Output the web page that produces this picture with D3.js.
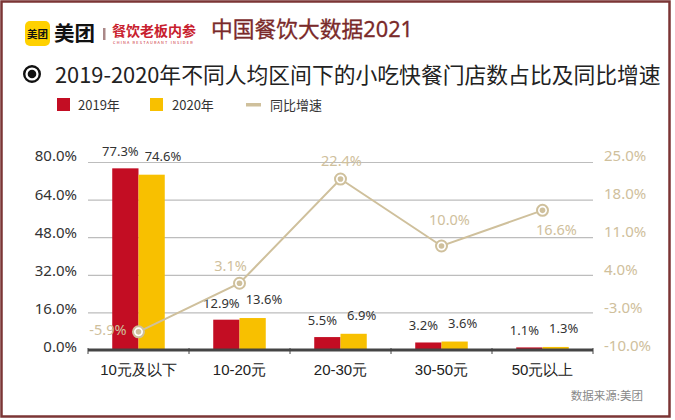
<!DOCTYPE html>
<html><head><meta charset="utf-8">
<script src="https://cdn.jsdelivr.net/npm/d3@7"></script>
<style>
html,body{margin:0;padding:0;background:#fff;}
svg{display:block;font-family:"Noto Sans CJK SC","Noto Sans",sans-serif;}
</style></head>
<body><svg id="c" width="675" height="420"></svg>
<script>
const categories = ["10元及以下","10-20元","20-30元","30-50元","50元以上"];
const values2019 = [77.3, 12.9, 5.5, 3.2, 1.1];
const values2020 = [74.6, 13.6, 6.9, 3.6, 1.3];
const growth = [-5.9, 3.1, 22.4, 10.0, 16.6];
const leftTicks = [0, 16, 32, 48, 64, 80];
const rightTicks = [-10, -3, 4, 11, 18, 25];
const seriesNames = ["2019年","2020年","同比增速"];

const RED = "#C30D23", YEL = "#F8C000", BEIGE = "#CFC09C";
const svg = d3.select("#c");

function fit(sel, w){
  const base = parseFloat(sel.attr("font-size"));
  const m = sel.node().getComputedTextLength();
  if (m > 0) sel.attr("font-size", (base * w / m).toFixed(2));
  return sel;
}

// frame
svg.append("rect").attr("x",1.5).attr("y",1.5).attr("width",668).attr("height",415)
  .attr("fill","#fff").attr("stroke","#7B3535").attr("stroke-width",2.5);

// header logo
svg.append("rect").attr("x",25).attr("y",21).attr("width",25).attr("height",25).attr("rx",5).attr("fill","#FFD100");
svg.append("text").attr("x",37.5).attr("y",37.5).attr("text-anchor","middle").attr("font-size",10.5).attr("font-weight","bold").attr("fill","#111").text("美团");
fit(svg.append("text").attr("x",54).attr("y",41).attr("font-size",20).attr("font-weight","bold").attr("fill","#111").text("美团"),41);
svg.append("rect").attr("x",103).attr("y",28).attr("width",2.5).attr("height",12).attr("fill","#A88");
fit(svg.append("text").attr("x",112).attr("y",35.5).attr("font-size",14).attr("font-weight","bold").attr("fill","#C8202E").text("餐饮老板内参"),84);
fit(svg.append("text").attr("x",113).attr("y",44).attr("font-size",3.6).attr("letter-spacing",1.2).attr("fill","#C8202E").text("CHINA RESTAURANT INSIDER"),83);
fit(svg.append("text").attr("x",211).attr("y",37).attr("font-size",18).attr("font-family","'Noto Sans','Noto Sans CJK SC',sans-serif").attr("fill","#7A2A2A").attr("stroke","#7A2A2A").attr("stroke-width",0.3).text("中国餐饮大数据2021"),202);

// title
svg.append("circle").attr("cx",32).attr("cy",74).attr("r",7.8).attr("fill","none").attr("stroke","#111").attr("stroke-width",2.4);
svg.append("circle").attr("cx",32).attr("cy",74).attr("r",4.3).attr("fill","#111");
fit(svg.append("text").attr("x",55).attr("y",83).attr("font-size",21).attr("fill","#222").text("2019-2020年不同人均区间下的小吃快餐门店数占比及同比增速"),606);

// legend
const lg = svg.append("g");
lg.append("rect").attr("x",57).attr("y",98).attr("width",13).attr("height",13).attr("fill",RED);
lg.append("text").attr("x",78).attr("y",110).attr("font-size",13).attr("fill","#333").text(seriesNames[0]);
lg.append("rect").attr("x",150).attr("y",98).attr("width",13).attr("height",13).attr("fill",YEL);
lg.append("text").attr("x",172).attr("y",110).attr("font-size",13).attr("fill","#333").text(seriesNames[1]);
lg.append("rect").attr("x",246).attr("y",103).attr("width",15).attr("height",3.5).attr("fill",BEIGE);
lg.append("text").attr("x",270).attr("y",110).attr("font-size",13).attr("fill","#333").text(seriesNames[2]);

// scales
const x0 = 88, x1 = 593, yTop = 162, yBot = 350;
const x = d3.scaleBand().domain(categories).range([x0,x1]).paddingInner(0.48).paddingOuter(0.24);
const xb = d3.scaleBand().domain(categories).range([x0,x1]);
const inner = d3.scaleBand().domain(["a","b"]).range([0,x.bandwidth()]);
const yL = d3.scaleLinear().domain([0,80]).range([yBot,yTop]);
const yR = d3.scaleLinear().domain([-10,25]).range([354,165]);
const yLabL = d3.scaleLinear().domain([0,80]).range([347,156]);
const yLabR = d3.scaleLinear().domain([-10,25]).range([346,156]);

// grid
svg.append("g").selectAll("line").data(leftTicks.slice(1)).join("line")
  .attr("x1",x0).attr("x2",x1).attr("y1",d=>yL(d)+0.5).attr("y2",d=>yL(d)+0.5)
  .attr("stroke","#BDBDBD").attr("stroke-width",1.2);

// left axis labels
const la = svg.append("g").attr("transform",`translate(${x0},0)`)
  .call(d3.axisLeft(yLabL).tickValues(leftTicks).tickSize(0).tickPadding(11).tickFormat(d=>d.toFixed(1)+"%"));
la.select(".domain").remove();
la.selectAll("text").attr("font-size",15).attr("fill","#333").attr("font-family","'Noto Sans','Noto Sans CJK SC',sans-serif");

// right axis labels
const ra = svg.append("g").attr("transform",`translate(${x1},0)`)
  .call(d3.axisRight(yLabR).tickValues(rightTicks).tickSize(0).tickPadding(11).tickFormat(d=>d.toFixed(1)+"%"));
ra.select(".domain").remove();
ra.selectAll("text").attr("font-size",15).attr("fill",BEIGE).attr("font-family","'Noto Sans','Noto Sans CJK SC',sans-serif");

// bars
const bars = svg.append("g");
const lblF = "'Noto Sans','Noto Sans CJK SC',sans-serif";
categories.forEach((c,i)=>{
  bars.append("rect").attr("x",x(c)).attr("y",yL(values2019[i])).attr("width",inner.bandwidth())
    .attr("height",yBot-yL(values2019[i])).attr("fill",RED);
  bars.append("rect").attr("x",x(c)+inner("b")).attr("y",yL(values2020[i])).attr("width",inner.bandwidth())
    .attr("height",yBot-yL(values2020[i])).attr("fill",YEL);
  const t1 = bars.append("text").attr("x",x(c)+inner.bandwidth()/2-5).attr("y",yL(values2019[i])-12)
    .attr("text-anchor","middle").attr("font-size",13).attr("font-family",lblF).attr("fill","#333").text(values2019[i].toFixed(1)+"%");
  const t2 = bars.append("text").attr("y",yL(values2020[i])-14)
    .attr("text-anchor","middle").attr("font-size",13).attr("font-family",lblF).attr("fill","#333").text(values2020[i].toFixed(1)+"%");
  const w1 = t1.node().getComputedTextLength(), w2 = t2.node().getComputedTextLength();
  const minX = +t1.attr("x") + w1/2 + 6 + w2/2;
  t2.attr("x", Math.max(x(c)+inner("b")+inner.bandwidth()/2+8, minX));
});

// x axis
const xa = svg.append("g").attr("transform",`translate(0,${yBot})`)
  .call(d3.axisBottom(xb).tickSize(0).tickPadding(11));
xa.select(".domain").remove();
xa.selectAll("text").attr("font-size",15).attr("fill","#222").attr("dy","0.9em");
svg.append("line").attr("x1",x0).attr("x2",x1).attr("y1",yBot).attr("y2",yBot).attr("stroke","#444").attr("stroke-width",3);
svg.append("g").selectAll("line").data(d3.range(categories.length+1)).join("line")
  .attr("x1",d=>x0+d*xb.step()).attr("x2",d=>x0+d*xb.step()).attr("y1",yBot-2).attr("y2",yBot+4)
  .attr("stroke","#444").attr("stroke-width",1);

// line
const cx = c => xb(c)+xb.bandwidth()/2;
svg.append("path").datum(growth)
  .attr("d", d3.line().x((d,i)=>cx(categories[i])).y(d=>yR(d)))
  .attr("fill","none").attr("stroke",BEIGE).attr("stroke-width",2);
const pts = svg.append("g").selectAll("g").data(growth).join("g")
  .attr("transform",(d,i)=>`translate(${cx(categories[i])},${yR(d)})`);
pts.append("circle").attr("r",5.5).attr("fill","#fff").attr("stroke",BEIGE).attr("stroke-width",2);
pts.append("circle").attr("r",2.8).attr("fill",BEIGE);

// line labels
const labelPos = [[-12,3,"end"],[-9,-12,"middle"],[1,-13,"middle"],[8,-21,"middle"],[14,25,"middle"]];
svg.append("g").selectAll("text").data(growth).join("text")
  .attr("x",(d,i)=>cx(categories[i])+labelPos[i][0])
  .attr("y",(d,i)=>yR(d)+labelPos[i][1])
  .attr("text-anchor",(d,i)=>labelPos[i][2])
  .attr("font-size",14.5).attr("font-family",lblF).attr("fill",BEIGE).text(d=>d.toFixed(1)+"%");

// source
svg.append("text").attr("x",643).attr("y",400).attr("text-anchor","end").attr("font-size",11.5).attr("fill","#888").text("数据来源:美团");
</script></body></html>
